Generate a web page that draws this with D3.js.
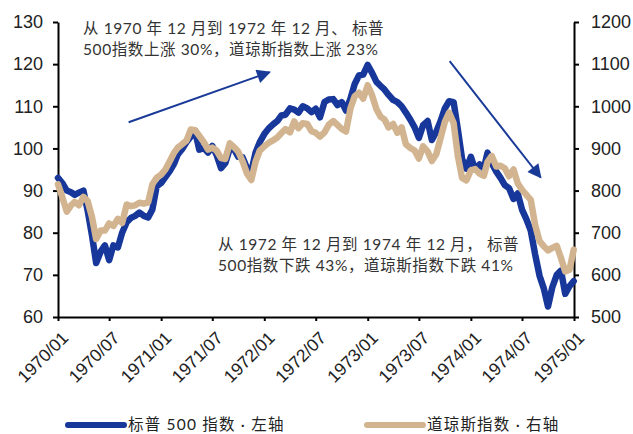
<!DOCTYPE html>
<html>
<head>
<meta charset="utf-8">
<script src="https://cdn.jsdelivr.net/npm/d3@7"></script>
<style>
    body { margin: 0; background: #fff; }
    svg { display: block; font-family: "Lato", "Noto Sans CJK SC", sans-serif; }
    .axis path, .axis line { stroke: #000; stroke-width: 2; }
    .axis text { fill: #222; }
</style>
</head>
<body>
<div id="chart"></div>
<script>
// S&P 500 (left axis) and Dow Jones (right axis), read twice a month, 1970/01 - 1974/12
const spValues = [
    93, 91.8, 90, 89.6, 89, 89.5, 90, 85.2, 79.5, 72.8,
    75.5, 77, 73.5, 77, 76.5, 80, 82.5, 83.5, 84, 84.8,
    84, 83.6, 85.5, 91, 91.8, 93.2, 94.7, 96.4, 98.6, 99.8,
    101.5, 102.8, 104.2, 99.7, 100.1, 99, 100.6, 98.5, 95.3, 96.5,
    100, 99.8, 98, 97.9, 95.3, 94.5, 99, 101.5, 103.4, 104.7,
    105.7, 106.5, 107.8, 108, 109.5, 109.2, 108.5, 110, 109.5, 108.6,
    109.4, 107.4, 111, 111.6, 111.7, 110.3, 111, 109, 111.8, 115.3,
    117.3, 117.5, 119.8, 118, 115.8, 114.8, 114, 112.7, 111.5, 111,
    110, 108.5, 106.8, 105, 102.5, 105.5, 106.5, 102, 104, 106.5,
    109.5, 111.2, 111, 104.5, 97.5, 95.2, 98, 95, 96.2, 95.3,
    99, 96.5, 94.5, 93, 91.3, 90.6, 88, 89.3, 85.5, 83.3,
    80.5, 75, 69.8, 66.8, 62.5, 67, 70, 71, 65.5, 67.3,
    68.5
];
const djValues = [
    815, 785, 750, 765, 773, 765, 785, 775, 738, 685,
    705, 705, 722, 716, 733, 723, 767, 763, 765, 771,
    769, 772, 815, 830, 838, 850, 870, 890, 902, 910,
    919, 945, 943, 930, 915, 897, 902, 895, 877, 875,
    912, 903, 892, 870, 840, 825, 868, 895, 905, 913,
    919, 926, 936, 946, 938, 964, 948, 960, 958, 941,
    937, 928, 938, 956, 965, 956, 946, 940, 995, 1024,
    1032, 1018, 1050, 1027, 993, 975, 969, 950, 958, 937,
    950, 910, 901, 895, 876, 905, 893, 870, 887, 925,
    963, 985, 960, 882, 830, 824, 848, 851, 840, 835,
    868, 882, 857, 859, 853, 834, 850, 817, 802, 790,
    778, 720, 680, 668, 658, 664, 669, 640, 608, 612,
    660
];

const leftTicks = [60, 70, 80, 90, 100, 110, 120, 130];
const rightTicks = [500, 600, 700, 800, 900, 1000, 1100, 1200];
const legendLabels = ["标普 500 指数 · 左轴", "道琼斯指数 · 右轴"];
const colors = ["#17379a", "#d2b590"];

// annotation text and arrows, given in chart units [date, left-axis value]
const noteUp = ["从 1970 年 12 月到 1972 年 12 月、 标普", "500指数上涨 30%，道琼斯指数上涨 23%"];
const noteDown = ["从 1972 年 12 月到 1974 年 12 月， 标普", "500指数下跌 43%，道琼斯指数下跌 41%"];
const arrowUp = [["1970-09-08", 106.2], ["1972-01-20", 118.1]];
const arrowDown = [["1973-10-18", 120.7], ["1974-09-05", 93.1]];

// dates: 1st and 16th of each month
let dates = [];
d3.timeMonth.range(new Date(1970, 0, 1), new Date(1975, 0, 1)).forEach(m => {
    dates.push(m);
    dates.push(d3.timeDay.offset(m, 15));
});
dates.push(new Date(1974, 11, 31));

const width = 633, height = 434;
const margin = {top: 22, right: 59, bottom: 117, left: 58};
const innerW = width - margin.left - margin.right;
const innerH = height - margin.top - margin.bottom;

const svg = d3.select("#chart").append("svg")
    .attr("width", width)
    .attr("height", height);

const x = d3.scaleTime()
    .domain([new Date(1970, 0, 1), new Date(1975, 0, 1)])
    .range([margin.left, margin.left + innerW]);
const yL = d3.scaleLinear().domain([60, 130]).range([margin.top + innerH, margin.top]);
const yR = d3.scaleLinear().domain([500, 1200]).range([margin.top + innerH, margin.top]);

// axes
svg.append("g")
    .attr("class", "axis")
    .attr("transform", `translate(${margin.left},0)`)
    .call(d3.axisLeft(yL).tickValues(leftTicks).tickSize(5).tickPadding(10).tickSizeOuter(0))
    .selectAll("text").style("font-size", "18px");

svg.append("g")
    .attr("class", "axis")
    .attr("transform", `translate(${margin.left + innerW},0)`)
    .call(d3.axisRight(yR).tickValues(rightTicks).tickFormat(d3.format("d")).tickSize(5).tickPadding(12).tickSizeOuter(0))
    .selectAll("text").style("font-size", "18px");

const xAxis = svg.append("g")
    .attr("class", "axis")
    .attr("transform", `translate(0,${margin.top + innerH})`)
    .call(d3.axisBottom(x).ticks(d3.timeMonth.every(6)).tickFormat(d3.timeFormat("%Y/%m")).tickSize(4).tickSizeOuter(0));

xAxis.selectAll("text")
    .style("font-size", "17.5px")
    .attr("text-anchor", "end")
    .attr("y", 0)
    .attr("dy", null)
    .attr("transform", "translate(11,22) rotate(-45)");

// lines
const lineL = d3.line().x((d, i) => x(dates[i])).y(d => yL(d));
const lineR = d3.line().x((d, i) => x(dates[i])).y(d => yR(d));

svg.append("path")
    .datum(spValues)
    .attr("fill", "none")
    .attr("stroke", colors[0])
    .attr("stroke-width", 6.5)
    .attr("stroke-linejoin", "round")
    .attr("stroke-linecap", "round")
    .attr("d", lineL);

svg.append("path")
    .datum(djValues)
    .attr("fill", "none")
    .attr("stroke", colors[1])
    .attr("stroke-width", 6.5)
    .attr("stroke-linejoin", "round")
    .attr("stroke-linecap", "round")
    .attr("d", lineR);

// arrows
svg.append("defs").append("marker")
    .attr("id", "head")
    .attr("viewBox", "0 0 10 10")
    .attr("refX", 9)
    .attr("refY", 5)
    .attr("markerWidth", 8)
    .attr("markerHeight", 7)
    .attr("markerUnits", "strokeWidth")
    .attr("orient", "auto")
    .append("path")
    .attr("d", "M0,0 L10,5 L0,10 Z")
    .attr("fill", "#1a3a98");

const parse = d3.timeParse("%Y-%m-%d");
[arrowUp, arrowDown].forEach(a => {
    svg.append("line")
        .attr("x1", x(parse(a[0][0]))).attr("y1", yL(a[0][1]))
        .attr("x2", x(parse(a[1][0]))).attr("y2", yL(a[1][1]))
        .attr("stroke", "#1a3a98")
        .attr("stroke-width", 2)
        .attr("marker-end", "url(#head)");
});

// notes
function addNote(lines, left, top) {
    const t = svg.append("text")
        .attr("x", left)
        .attr("y", top)
        .attr("fill", "#333")
        .style("font-size", "15.5px")
        .style("letter-spacing", "0.6px");
    lines.forEach((s, i) => {
        t.append("tspan").attr("x", left).attr("dy", i === 0 ? 0 : 21).text(s);
    });
}
addNote(noteUp, 83, 34);
addNote(noteDown, 218, 250);

// legend
const legend = svg.append("g").attr("transform", "translate(0,425)");
[68, 367].forEach((lx, i) => {
    legend.append("line")
        .attr("x1", lx).attr("x2", lx + 56)
        .attr("stroke", colors[i])
        .attr("stroke-width", 6)
        .attr("stroke-linecap", "round");
    legend.append("text")
        .attr("x", lx + 60)
        .attr("y", 0)
        .attr("dy", "0.35em")
        .attr("fill", "#222")
        .style("font-size", "15.5px")
        .style("letter-spacing", "1.2px")
        .text(legendLabels[i]);
});
</script>
</body>
</html>
